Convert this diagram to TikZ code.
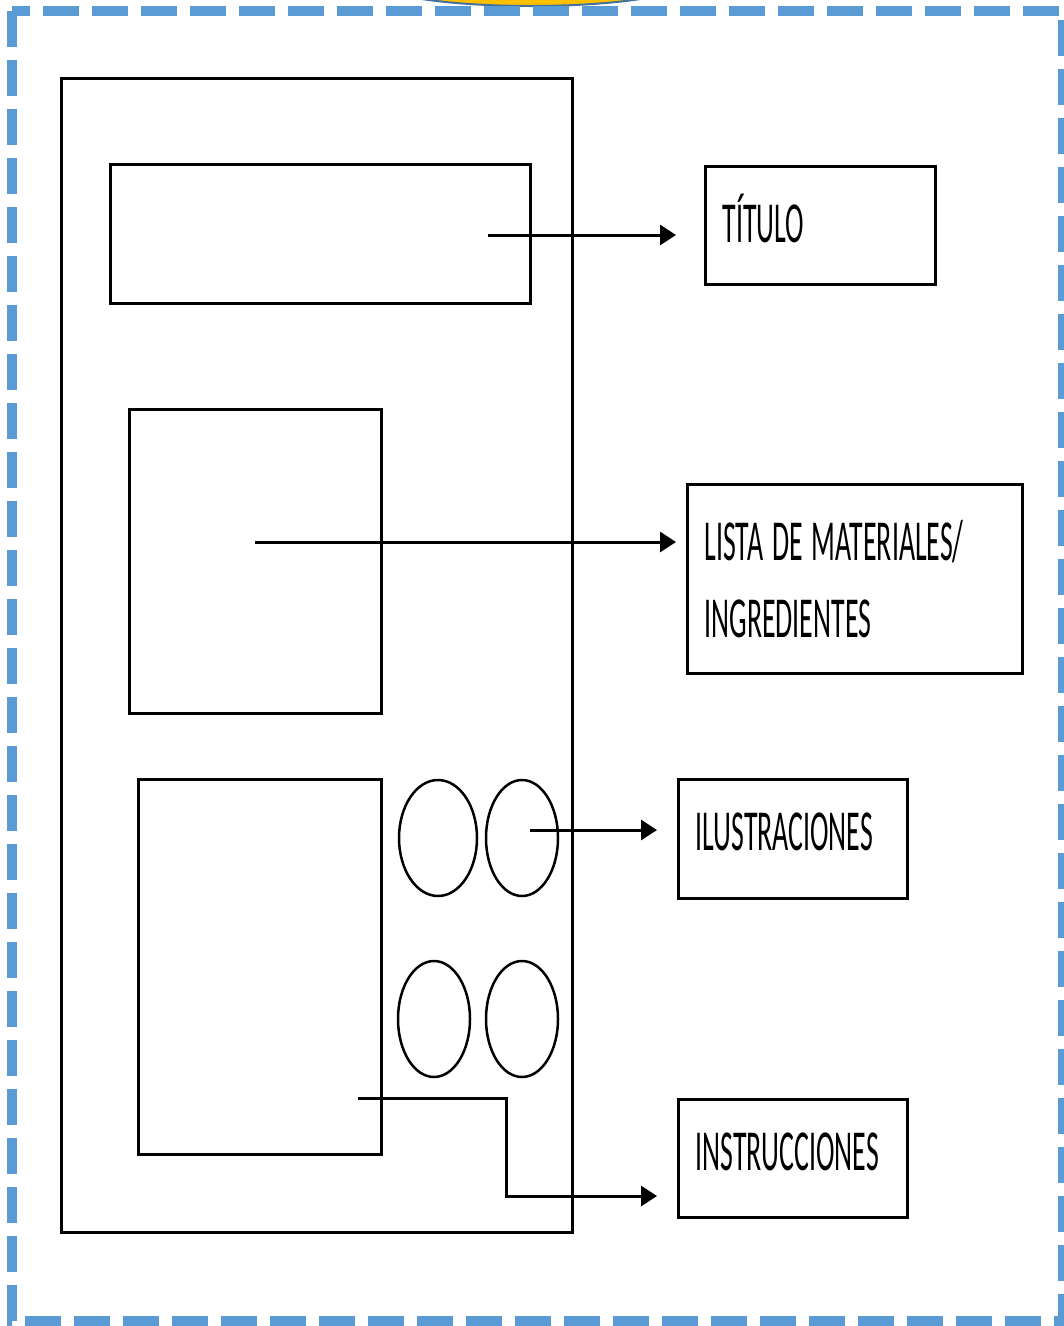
\documentclass[tikz,border=0pt]{standalone}
\usepackage{fontspec}
\newfontfamily\condfont[FakeStretch=0.48]{Carlito}
\usetikzlibrary{arrows.meta,shapes.geometric}
\definecolor{dashblue}{HTML}{5B9BD5}
\definecolor{sunyellow}{HTML}{FFC000}
\definecolor{sunedge}{HTML}{41719C}
\newcommand{\gapsp}{\hspace{9pt}}
\begin{document}
\begin{tikzpicture}[x=1pt,y=-1pt,
  panel/.style={draw=black, line width=2.5pt, inner sep=0pt, anchor=north west},
  oval/.style={draw=black, line width=2.5pt, ellipse, inner sep=0pt},
  tag/.style={draw=black, line width=3pt, anchor=north west, inner xsep=17pt, inner ysep=0pt,
    align=left, font=\condfont\fontsize{58}{77}\selectfont},
  oneline/.style={text depth=14pt},
  pointer/.style={draw=black, line width=3pt, -{Triangle[length=16pt,width=20pt]}}]
\useasboundingbox (0,0) rectangle (1064,1326);
\clip (0,0) rectangle (1064,1326);
\fill[white] (0,0) rectangle (1064,1326);
% top badge
\draw[sunedge, line width=2pt, fill=sunyellow] (531,-20) ellipse [x radius=160, y radius=26];
% dashed frame
\draw[dashblue, line width=10pt, dash pattern=on 36pt off 13pt] (12,11) rectangle (1063,1321);
% page layout
\node[panel, minimum width=511pt, minimum height=1154pt] (page) at (60,77) {};
\node[panel, line width=3pt, minimum width=420pt, minimum height=139pt] (titleslot) at (109,163) {};
\node[panel, line width=3pt, minimum width=252pt, minimum height=304pt] (listslot) at (128,408) {};
\node[panel, line width=3pt, minimum width=243pt, minimum height=375pt] (instrslot) at (137,778) {};
\node[oval, minimum width=78pt, minimum height=116pt] (c1) at (438,838) {};
\node[oval, minimum width=72pt, minimum height=116pt] (c2) at (522,838) {};
\node[oval, minimum width=72pt, minimum height=116pt] (c3) at (434,1019) {};
\node[oval, minimum width=72pt, minimum height=116pt] (c4) at (522,1019) {};
% labels
\node[tag, oneline, text width=196pt, minimum height=118pt] (titulo) at (704,165) {TÍTULO};
\node[tag, text width=301pt, minimum height=189pt] (lista) at (686,483) {LISTA\gapsp DE\gapsp MATERIALES/\\INGREDIENTES};
\node[tag, oneline, text width=195pt, minimum height=119pt] (ilus) at (677,778) {ILUSTRACIONES};
\node[tag, oneline, text width=195pt, minimum height=118pt] (instr) at (677,1098) {INSTRUCCIONES};
% connectors
\coordinate (a1s) at (488,235);
\coordinate (a2s) at (255,542);
\coordinate (a3s) at (530,830);
\coordinate (a4s) at (358,1098);
\coordinate (a4b) at (506,1098);
\coordinate (a4c) at (506,1196);
\draw[pointer, shorten >=28pt] (a1s) -- (a1s -| titulo.west);
\draw[pointer, shorten >=10pt] (a2s) -- (a2s -| lista.west);
\draw[pointer, shorten >=20pt] (a3s) -- (a3s -| ilus.west);
\draw[pointer, shorten >=20pt] (a4s) -- (a4b) -- (a4c) -- (a4c -| instr.west);
\end{tikzpicture}
\end{document}
